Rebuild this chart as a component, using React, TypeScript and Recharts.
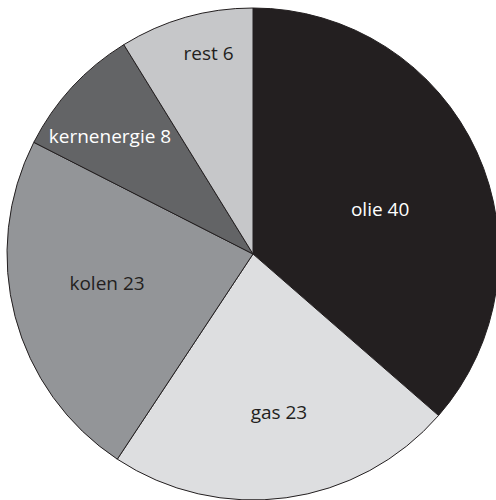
import { Cell, Pie, PieChart } from "recharts";

const names = ["olie", "gas", "kolen", "kernenergie", "rest"];
const shares = [36.4, 22.9, 23.2, 8.7, 8.8];
const printed = [40, 23, 23, 8, 6];

const fills = ["#231f20", "#dddee0", "#939598", "#636466", "#c6c7c9"];
const textFills = ["#ffffff", "#231f20", "#231f20", "#ffffff", "#231f20"];
// label placement: fraction of the radius and a small turn off the mid angle
const labelRadius = [0.548, 0.65, 0.605, 0.754, 0.838];
const labelTurn = [-5, 1.6, -3.5, 3.1, -3.4];

const data = names.map((name, i) => ({ name, value: shares[i], printed: printed[i] }));

const RAD = Math.PI / 180;

function renderLabel(props: any) {
  const { cx, cy, midAngle, outerRadius, index } = props;
  const r = outerRadius * labelRadius[index];
  const a = midAngle + labelTurn[index];
  const x = cx + r * Math.cos(-a * RAD);
  const y = cy + r * Math.sin(-a * RAD);
  return (
    <text
      x={x}
      y={y}
      fill={textFills[index]}
      textAnchor="middle"
      dominantBaseline="central"
      fontFamily="'Open Sans', 'Noto Sans', sans-serif"
      fontSize={19}
    >
      {`${names[index]} ${printed[index]}`}
    </text>
  );
}

export default function App() {
  return (
    <div style={{ position: "absolute", left: 0, top: 0, background: "#fff" }}>
      <PieChart width={496} height={500} margin={{ top: 0, right: 0, bottom: 0, left: 0 }}>
        <Pie
          data={data}
          dataKey="value"
          nameKey="name"
          cx={253}
          cy={254}
          outerRadius={246}
          startAngle={90}
          endAngle={-270}
          stroke="#231f20"
          strokeWidth={1}
          label={renderLabel}
          labelLine={false}
          isAnimationActive={false}
        >
          {data.map((d, i) => (
            <Cell key={d.name} fill={fills[i]} />
          ))}
        </Pie>
      </PieChart>
    </div>
  );
}
